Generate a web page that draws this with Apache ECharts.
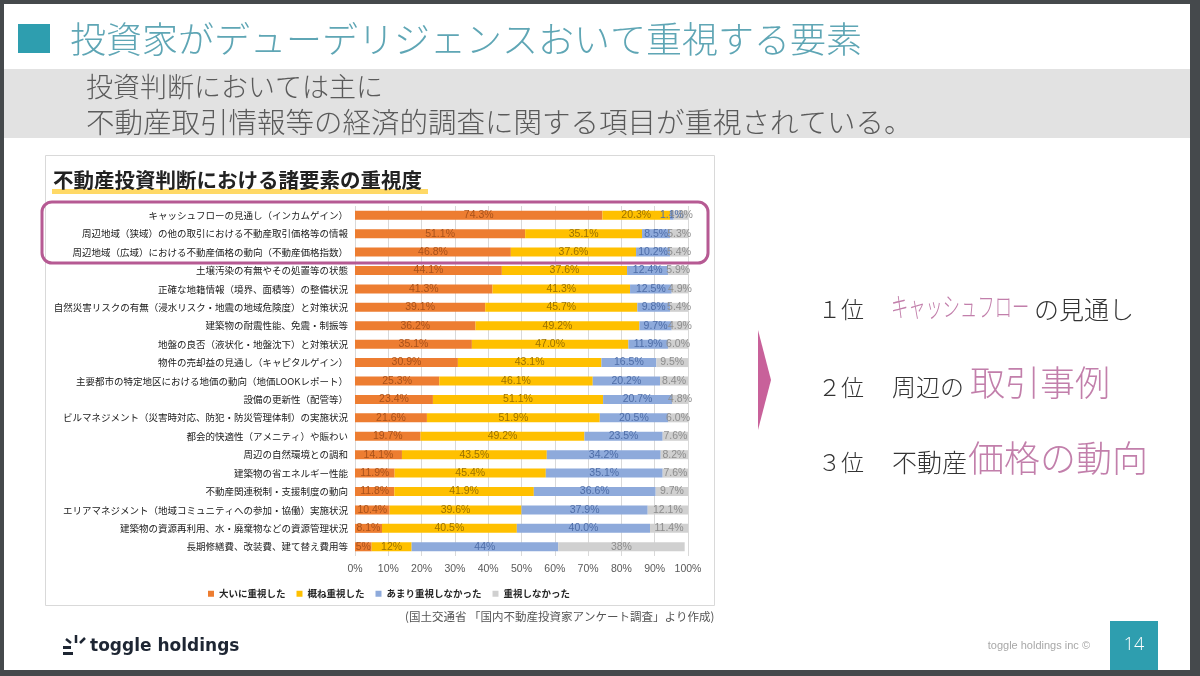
<!DOCTYPE html>
<html>
<head>
<meta charset="utf-8">
<script src="https://cdn.jsdelivr.net/npm/echarts@6/dist/echarts.min.js"></script>
<style>
  html, body { margin: 0; padding: 0; background: #45494c; }
  #main { width: 1200px; height: 676px; }
</style>
</head>
<body>
<div id="main"></div>
<script>
// 項目（上から順）
var categories = [
    'キャッシュフローの見通し（インカムゲイン）',
    '周辺地域（狭域）の他の取引における不動産取引価格等の情報',
    '周辺地域（広域）における不動産価格の動向（不動産価格指数）',
    '土壌汚染の有無やその処置等の状態',
    '正確な地籍情報（境界、面積等）の整備状況',
    '自然災害リスクの有無（浸水リスク・地震の地域危険度）と対策状況',
    '建築物の耐震性能、免震・制振等',
    '地盤の良否（液状化・地盤沈下）と対策状況',
    '物件の売却益の見通し（キャピタルゲイン）',
    '主要都市の特定地区における地価の動向（地価LOOKレポート）',
    '設備の更新性（配管等）',
    'ビルマネジメント（災害時対応、防犯・防災管理体制）の実施状況',
    '都会的快適性（アメニティ）や賑わい',
    '周辺の自然環境との調和',
    '建築物の省エネルギー性能',
    '不動産関連税制・支援制度の動向',
    'エリアマネジメント（地域コミュニティへの参加・協働）実施状況',
    '建築物の資源再利用、水・廃棄物などの資源管理状況',
    '長期修繕費、改装費、建て替え費用等'
];
// 小数点以下の桁数（最後の行だけ整数表示）
var decimals = [1, 1, 1, 1, 1, 1, 1, 1, 1, 1, 1, 1, 1, 1, 1, 1, 1, 1, 0];

var seriesNames = ['大いに重視した', '概ね重視した', 'あまり重視しなかった', '重視しなかった'];
var veryImportant = [74.3, 51.1, 46.8, 44.1, 41.3, 39.1, 36.2, 35.1, 30.9, 25.3, 23.4, 21.6, 19.7, 14.1, 11.9, 11.8, 10.4, 8.1, 5];
var fairlyImportant = [20.3, 35.1, 37.6, 37.6, 41.3, 45.7, 49.2, 47.0, 43.1, 46.1, 51.1, 51.9, 49.2, 43.5, 45.4, 41.9, 39.6, 40.5, 12];
var notVery = [1.1, 8.5, 10.2, 12.4, 12.5, 9.8, 9.7, 11.9, 16.5, 20.2, 20.7, 20.5, 23.5, 34.2, 35.1, 36.6, 37.9, 40.0, 44];
var notAtAll = [4.3, 5.3, 5.4, 5.9, 4.9, 5.4, 4.9, 6.0, 9.5, 8.4, 4.8, 6.0, 7.6, 8.2, 7.6, 9.7, 12.1, 11.4, 38];

var xTicks = [0, 10, 20, 30, 40, 50, 60, 70, 80, 90, 100];

var barColors = ['#ed7d31', '#ffc000', '#8eaadb', '#d0d0d0'];
var labelColors = ['#a9521b', '#9c7200', '#4f6ea8', '#8e8e8e'];

var cjk = '"Noto Sans CJK JP", sans-serif';
var narrow = '"Liberation Sans Narrow", "Liberation Sans", sans-serif';

function makeSeries(name, data, idx) {
    return {
        name: name,
        type: 'bar',
        stack: 'total',
        barWidth: 9,
        data: data,
        itemStyle: { color: barColors[idx] },
        label: {
            show: true,
            position: 'inside',
            color: labelColors[idx],
            fontSize: 10.5,
            fontFamily: narrow,
            formatter: function (p) {
                return p.value.toFixed(decimals[p.dataIndex]) + '%';
            }
        }
    };
}

var myChart = echarts.init(document.getElementById('main'));

var option = {
    backgroundColor: '#45494c',
    animation: false,
    textStyle: { fontFamily: cjk },
    grid: { left: 355, right: 512, top: 206, height: 350 },
    legend: {
        data: seriesNames,
        left: 203,
        top: 584,
        icon: 'rect',
        itemWidth: 6,
        itemHeight: 6,
        itemGap: 11,
        textStyle: { fontSize: 9.5, color: '#262626', fontFamily: cjk, fontWeight: 'bold' }
    },
    xAxis: {
        type: 'value',
        min: xTicks[0],
        max: xTicks[xTicks.length - 1],
        interval: 10,
        axisLine: { show: false },
        axisTick: { show: false },
        splitLine: { lineStyle: { color: '#d9d9d9', width: 1 } },
        axisLabel: {
            formatter: '{value}%',
            color: '#595959',
            fontSize: 10.5,
            fontFamily: narrow,
            margin: 8
        }
    },
    yAxis: {
        type: 'category',
        inverse: true,
        data: categories,
        axisLine: { show: false },
        axisTick: { show: false },
        axisLabel: {
            color: '#1a1a1a',
            fontSize: 9.5,
            fontFamily: cjk,
            margin: 7
        }
    },
    series: [
        makeSeries(seriesNames[0], veryImportant, 0),
        makeSeries(seriesNames[1], fairlyImportant, 1),
        makeSeries(seriesNames[2], notVery, 2),
        makeSeries(seriesNames[3], notAtAll, 3)
    ],
    graphic: [
        // スライド本体
        { type: 'rect', z: -10, shape: { x: 4, y: 4, width: 1186, height: 666 }, style: { fill: '#ffffff' } },
        // タイトル
        { type: 'rect', z: -5, shape: { x: 18, y: 24, width: 32, height: 29 }, style: { fill: '#2e9eaf' } },
        { type: 'text', z: -5, x: 70, y: 39, style: { text: '投資家がデューデリジェンスおいて重視する要素', font: '300 36px ' + cjk, fill: '#5fa6b5', textVerticalAlign: 'middle' } },
        // サブタイトル帯
        { type: 'rect', z: -6, shape: { x: 4, y: 69, width: 1186, height: 69 }, style: { fill: '#e2e2e2' } },
        { type: 'text', z: -5, x: 86, y: 87, style: { text: '投資判断においては主に', font: '300 27px ' + cjk, fill: '#5a5a5a', textVerticalAlign: 'middle' } },
        { type: 'text', z: -5, x: 86, y: 122, style: { text: '不動産取引情報等の経済的調査に関する項目が重視されている。', font: '300 28.5px ' + cjk, fill: '#5a5a5a', textVerticalAlign: 'middle' } },
        // グラフ枠
        { type: 'rect', z: -4, shape: { x: 45.5, y: 155.5, width: 669, height: 450 }, style: { fill: '#ffffff', stroke: '#d9d9d9', lineWidth: 1 } },
        { type: 'rect', z: -3, shape: { x: 52, y: 189, width: 376, height: 5 }, style: { fill: '#ffd966' } },
        { type: 'text', z: -2, x: 53, y: 180, style: { text: '不動産投資判断における諸要素の重視度', font: 'bold 20.5px ' + cjk, fill: '#222', textVerticalAlign: 'middle' } },
        // 強調枠
        { type: 'rect', z: 10, shape: { x: 42, y: 202, width: 666, height: 61, r: 10 }, style: { fill: 'none', stroke: '#b65a93', lineWidth: 3 } },
        // 出典
        { type: 'text', x: 405, y: 617, style: { text: '(国土交通省 「国内不動産投資家アンケート調査」より作成)', font: '11.5px ' + cjk, fill: '#555', textVerticalAlign: 'middle' } },
        // 矢印
        { type: 'polygon', shape: { points: [[758, 330], [771, 380], [758, 430]] }, style: { fill: '#c8619a' } },
        // ランキング
        { type: 'text', x: 818, y: 309, style: { text: '１位', font: '300 23px ' + cjk, fill: '#333', textVerticalAlign: 'middle' } },
        { type: 'text', x: 891, y: 307, scaleX: 0.64, style: { text: 'キャッシュフロー', font: '300 27px ' + cjk, fill: '#c27fab', textVerticalAlign: 'middle' } },
        { type: 'text', x: 1034, y: 309, style: { text: 'の見通し', font: '300 25px ' + cjk, fill: '#333', textVerticalAlign: 'middle' } },
        { type: 'text', x: 818, y: 387, style: { text: '２位', font: '300 23px ' + cjk, fill: '#333', textVerticalAlign: 'middle' } },
        { type: 'text', x: 892, y: 387, style: { text: '周辺の', font: '300 24px ' + cjk, fill: '#333', textVerticalAlign: 'middle' } },
        { type: 'text', x: 970, y: 383, style: { text: '取引事例', font: '300 35px ' + cjk, fill: '#c27fab', textVerticalAlign: 'middle' } },
        { type: 'text', x: 818, y: 462, style: { text: '３位', font: '300 23px ' + cjk, fill: '#333', textVerticalAlign: 'middle' } },
        { type: 'text', x: 892, y: 462, style: { text: '不動産', font: '300 25px ' + cjk, fill: '#333', textVerticalAlign: 'middle' } },
        { type: 'text', x: 968, y: 458, style: { text: '価格の動向', font: '300 36px ' + cjk, fill: '#c27fab', textVerticalAlign: 'middle' } },
        // ロゴ
        { type: 'rect', shape: { x: 63, y: 646, width: 8, height: 3 }, style: { fill: '#1e2633' } },
        { type: 'rect', shape: { x: 63, y: 652, width: 10, height: 3 }, style: { fill: '#1e2633' } },
        { type: 'line', shape: { x1: 66, y1: 639, x2: 71, y2: 643 }, style: { stroke: '#1e2633', lineWidth: 2.5 } },
        { type: 'line', shape: { x1: 76, y1: 635, x2: 76, y2: 643 }, style: { stroke: '#1e2633', lineWidth: 2.5 } },
        { type: 'line', shape: { x1: 85, y1: 638, x2: 80, y2: 643 }, style: { stroke: '#1e2633', lineWidth: 2.5 } },
        { type: 'text', x: 90, y: 647, style: { text: 'toggle holdings', font: 'bold 17px "DejaVu Sans", sans-serif', fill: '#1e2633', textVerticalAlign: 'middle' } },
        // フッター
        { type: 'text', x: 1090, y: 646, style: { text: 'toggle holdings inc ©', font: '11px ' + narrow, fill: '#a8a8a8', textAlign: 'right', textVerticalAlign: 'middle' } },
        { type: 'rect', shape: { x: 1110, y: 621, width: 48, height: 49 }, style: { fill: '#2e9eaf' } },
        { type: 'text', x: 1134, y: 645, style: { text: '14', font: '300 18px "Open Sans", sans-serif', fill: '#ffffff', textAlign: 'center', textVerticalAlign: 'middle' } }
    ]
};

myChart.setOption(option);
</script>
</body>
</html>
